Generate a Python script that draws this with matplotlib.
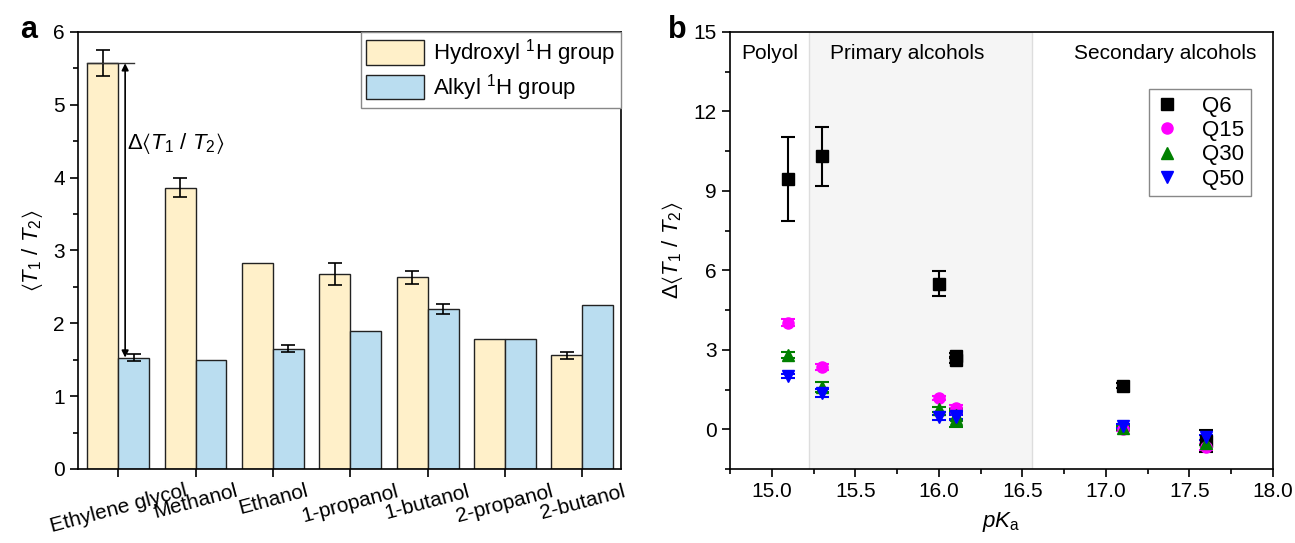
import numpy as np
import matplotlib
matplotlib.use("Agg")
import matplotlib.pyplot as plt
from matplotlib.ticker import MultipleLocator, FormatStrFormatter
from matplotlib.patches import Patch
from matplotlib.lines import Line2D

plt.rcParams['font.family'] = ['Liberation Sans', 'DejaVu Sans']
plt.rcParams['mathtext.fontset'] = 'custom'
plt.rcParams['mathtext.rm'] = 'Liberation Sans'
plt.rcParams['mathtext.it'] = 'Liberation Sans:italic'
plt.rcParams['mathtext.bf'] = 'Liberation Sans:bold'
plt.rcParams['mathtext.fallback'] = 'stixsans'

# panel a data
alcohols = ["Ethylene glycol", "Methanol", "Ethanol", "1-propanol",
            "1-butanol", "2-propanol", "2-butanol"]
hydroxyl = [5.57, 3.86, 2.83, 2.68, 2.63, 1.78, 1.56]
hydroxyl_err = [0.18, 0.13, np.nan, 0.15, 0.09, np.nan, 0.05]
alkyl = [1.53, 1.50, 1.65, 1.89, 2.20, 1.78, 2.25]
alkyl_err = [0.05, np.nan, 0.05, np.nan, 0.07, np.nan, np.nan]

# panel b data
pka = [15.1, 15.3, 16.0, 16.1, 16.1, 17.1, 17.6]
q6 = [9.45, 10.3, 5.5, 2.78, 2.62, 1.65, -0.45]
q6_err = [1.6, 1.1, 0.48, 0.1, 0.1, 0.08, 0.42]
q15 = [4.03, 2.35, 1.18, 0.8, 0.7, 0.0, -0.67]
q15_err = [0.15, 0.1, 0.08, 0.1, 0.1, 0.05, 0.1]
q30 = [2.8, 1.6, 0.75, 0.55, 0.4, 0.05, -0.5]
q30_err = [0.12, 0.2, 0.1, 0.2, 0.3, 0.08, 0.1]
q50 = [2.0, 1.38, 0.45, 0.5, 0.45, 0.12, -0.3]
q50_err = [0.08, 0.15, 0.1, 0.1, 0.1, 0.08, 0.1]

c_hyd = "#FFF0C9"
c_alk = "#BADDF0"
ratio_lbl = r"$\langle T_1\ /\ T_2\rangle$"
delta_lbl = r"$\Delta\langle T_1\ /\ T_2\rangle$"

fig = plt.figure(figsize=(12.95, 5.43), dpi=100)
ax1 = fig.add_axes([0.0602, 0.1363, 0.4193, 0.8048])
ax2 = fig.add_axes([0.5637, 0.1363, 0.4193, 0.8048])

# ---- panel a ----
x = np.arange(len(alcohols))
w = 0.4
ax1.bar(x - w / 2, hydroxyl, w, color=c_hyd, edgecolor="#222222", linewidth=1)
ax1.bar(x + w / 2, alkyl, w, color=c_alk, edgecolor="#222222", linewidth=1)
for xs, vals, errs in [(x - w / 2, hydroxyl, hydroxyl_err), (x + w / 2, alkyl, alkyl_err)]:
    errs = np.array(errs)
    m = ~np.isnan(errs)
    ax1.errorbar(xs[m], np.array(vals)[m], yerr=errs[m], fmt="none",
                 ecolor="black", elinewidth=1.2, capsize=5, capthick=1.2)

# delta annotation
ax1.plot([-w, 0.2], [hydroxyl[0], hydroxyl[0]], color="#333333", lw=1)
ax1.annotate("", xy=(0.09, alkyl[0]), xytext=(0.09, hydroxyl[0]),
             arrowprops=dict(arrowstyle="<|-|>", color="black", lw=1.2,
                             shrinkA=0, shrinkB=0, mutation_scale=10))
ax1.text(0.12, 4.47, delta_lbl, fontsize=16, ha="left", va="center")

ax1.set_xlim(-0.52, 6.5)
ax1.set_ylim(0, 6)
ax1.set_xticks(x)
ax1.set_xticklabels(alcohols, rotation=15, ha="center", fontsize=15)
ax1.yaxis.set_major_locator(MultipleLocator(1))
ax1.yaxis.set_minor_locator(MultipleLocator(0.5))
ax1.tick_params(axis="both", which="major", direction="out", length=6, width=1.2, labelsize=15)
ax1.tick_params(axis="x", pad=3)
ax1.tick_params(axis="y", which="minor", direction="out", length=3.5, width=1.2)
ax1.set_ylabel(ratio_lbl, fontsize=16, labelpad=6)
for s in ax1.spines.values():
    s.set_linewidth(1.2)

handles = [Patch(facecolor=c_hyd, edgecolor="#222222", label=r"Hydroxyl $^1$H group"),
           Patch(facecolor=c_alk, edgecolor="#222222", label=r"Alkyl $^1$H group")]
leg1 = ax1.legend(handles=handles, loc="upper right", borderaxespad=0, fontsize=16,
                  handlelength=2.6, handleheight=1.3, fancybox=False,
                  edgecolor="#888888", framealpha=1, borderpad=0.25,
                  labelspacing=0.15, handletextpad=0.4)
leg1.get_frame().set_linewidth(1)

# ---- panel b ----
ax2.axvspan(15.22, 16.555, facecolor="#F5F5F5", edgecolor="#DDDDDD", lw=1, zorder=0)
series = [(q6, q6_err, "Q6", "s", "black"),
          (q15, q15_err, "Q15", "o", "magenta"),
          (q30, q30_err, "Q30", "^", "green"),
          (q50, q50_err, "Q50", "v", "blue")]
leg_handles = []
for vals, errs, lab, mk, col in series:
    ax2.errorbar(pka, vals, yerr=errs, fmt=mk, color=col, ecolor=col,
                 markersize=8, elinewidth=1.5, capsize=5, capthick=1.5, zorder=3)
    leg_handles.append(Line2D([], [], ls="none", marker=mk, color=col,
                              markersize=8, label=lab))

ax2.text(14.82, 14.2, "Polyol", fontsize=15, ha="left", va="center")
ax2.text(15.35, 14.2, "Primary alcohols", fontsize=15, ha="left", va="center")
ax2.text(16.81, 14.2, "Secondary alcohols", fontsize=15, ha="left", va="center")

ax2.set_xlim(14.75, 18.0)
ax2.set_ylim(-1.5, 15)
ax2.xaxis.set_major_locator(MultipleLocator(0.5))
ax2.xaxis.set_minor_locator(MultipleLocator(0.25))
ax2.yaxis.set_major_locator(MultipleLocator(3))
ax2.yaxis.set_minor_locator(MultipleLocator(1.5))
ax2.xaxis.set_major_formatter(FormatStrFormatter("%.1f"))
ax2.tick_params(axis="both", which="major", direction="out", length=6, width=1.2, labelsize=15)
ax2.tick_params(axis="both", which="minor", direction="out", length=3.5, width=1.2)
ax2.set_xlabel(r"$pK_\mathrm{a}$", fontsize=16, labelpad=6)
ax2.set_ylabel(delta_lbl, fontsize=16, labelpad=6)
for s in ax2.spines.values():
    s.set_linewidth(1.2)

leg2 = ax2.legend(handles=leg_handles, loc="upper right", bbox_to_anchor=(0.9595, 0.8696),
                  borderaxespad=0, fontsize=16, fancybox=False, edgecolor="#888888",
                  framealpha=1, handlelength=1.0, handletextpad=1.1,
                  labelspacing=0.15, borderpad=0.3)
leg2.get_frame().set_linewidth(1)

fig.text(20 / 1295, 1 - 30 / 543, "a", fontsize=22, fontweight="bold", ha="left", va="center")
fig.text(668 / 1295, 1 - 30 / 543, "b", fontsize=22, fontweight="bold", ha="left", va="center")

fig.savefig("out.png", dpi=100)
